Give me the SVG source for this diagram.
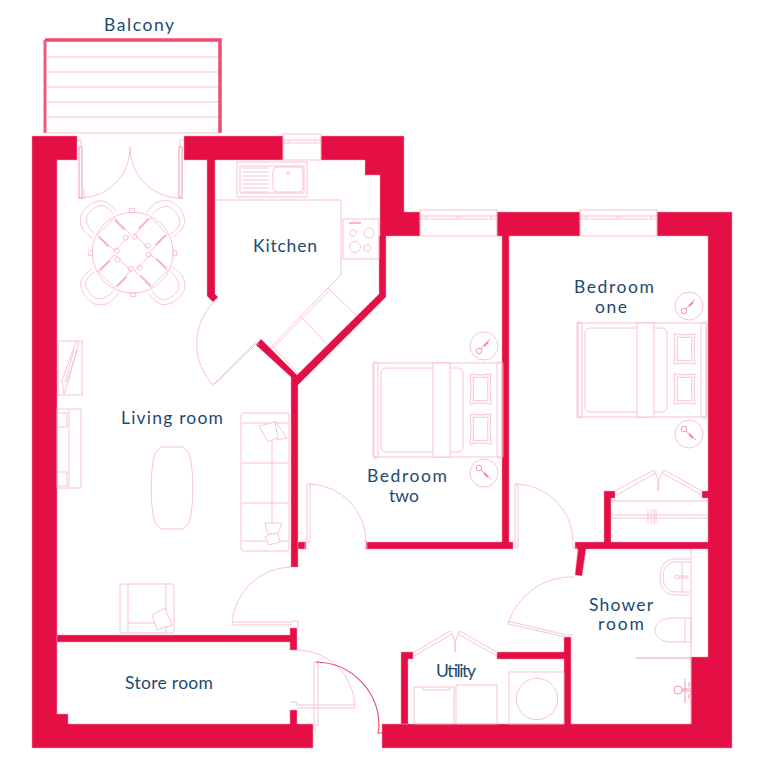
<svg xmlns="http://www.w3.org/2000/svg" xmlns:xlink="http://www.w3.org/1999/xlink" width="768" height="768" viewBox="0 0 768 768">
<style>
.w{fill:#e30f45;stroke:#f59ab2;stroke-width:.5}
.l{fill:none;stroke:#f9b4c7;stroke-width:.8}
.m{fill:none;stroke:#f58aa8;stroke-width:.9}
.d{fill:none;stroke:#ee4a74;stroke-width:1.1}
.t{fill:#1e4a70;font-family:"Lato","Open Sans",sans-serif;font-size:17.500px}
</style>
<defs>
<g id="win1" class="l"><rect x="0" y="-2" width="77" height="26"/><path d="M0 4H77M0 7H77M6 4V7M37 4V7M40 4V7M71 4V7"/></g>
<g id="lamp"><circle r="14" class="l"/><circle cx="-5" cy="5" r="2.8" class="m"/><path d="M-3 3L6 -7" class="m"/><path d="M0 0L4 -4" style="fill:none;stroke:#f58aa8;stroke-width:2.200"/></g>
<g id="pillow" class="l"><path d="M0 0Q10 2 21 0Q19 15 21 30Q10 28 0 30Q2 15 0 0Z"/><path d="M3 3Q10 4 18 3Q17 15 18 27Q10 26 3 27Q4 15 3 3Z"/></g>
<g id="bed" class="l"><rect x="0" y="0" width="128" height="94"/><rect x="-1" y="-1" width="5" height="96" rx="2"/><rect x="123" y="-1" width="6" height="96" rx="2"/><rect x="7" y="5" width="82" height="84" rx="5"/><rect x="59" y="0" width="17" height="94" style="fill:#fff"/><use xlink:href="#pillow" x="96" y="11"/><use xlink:href="#pillow" x="96" y="51"/></g>
<g id="place"><path d="M18 -35L35 -18L18 -2L2 -18Z" class="l"/><path d="M6 -24L16 -34M23 -8L33 -18" style="fill:none;stroke:#f9a9bf;stroke-width:1.600"/><circle cx="2" cy="-16" r="2.500" class="l"/><circle cx="15" cy="-7" r="2.500" class="l"/><path d="M14 -40C20 -48 24 -52 32 -52L36 -52C44 -50 52 -40 52 -31C52 -26 46 -20 41 -16M19 -38C24 -44 30 -47 36 -46C41 -44 47 -37 47 -31C47 -27 43 -22 38 -19" class="l"/></g>
</defs>

<g id="walls">
<path class="w" d="M32 136H77V160H57V714H68V724H290V710H297V724H313V748H32Z"/>
<path class="w" d="M184 136H283V160H215V294L218 297L213 302L207 296V160H184Z"/>
<path class="w" d="M321 136H404V212H420V236H386V297L298 385V567H291V377L256 345L261 339L297 375L379 294V236H380V175H365V160H321Z"/>
<path class="w" d="M497 212H580V236H509V542H513V549H366V542H502V236H497Z"/>
<path class="w" d="M657 212H732V748H382V724H564V659H497V652H564V637H571V724H691V657H708V549H586L582 576L575 575L578 549H575V542H604V491H615V498H611V542H708V498H702V491H708V236H657Z"/>
<path class="w" d="M401 652H413V659H408V724H401Z"/>
<path class="w" d="M57 635H290V628H297V650H290V642H57Z"/>
<rect class="w" x="298" y="542" width="8" height="7"/>
</g>

<g id="balcony">
<path d="M45 40H220V133" fill="none" stroke="#ee4a74" stroke-width="3.500"/>
<path d="M45 40V133" fill="none" stroke="#f0597f" stroke-width="3"/>
<path class="l" d="M47 57H218M47 72H218M47 87H218M47 102H218M47 117H218M43 133H222"/>
</g>

<g id="windows">
<use xlink:href="#win1" x="420" y="212"/>
<use xlink:href="#win1" x="580" y="212"/>
<g class="l"><rect x="283" y="134" width="38" height="26"/><path d="M283 140H321M283 143H321M289 140V143M315 140V143"/></g>
</g>

<g id="doors">
<g class="m"><rect x="79" y="147" width="3" height="51"/><rect x="179" y="147" width="3" height="51"/></g>
<g class="l"><path d="M77 140H81V147M184 140H180V147M78 198H84V188M177 198H183"/><path d="M82 198A50 50 0 0 0 130 147A50 50 0 0 0 179 198"/>
<path d="M218 298A60 60 0 0 0 213 385L256 342L259 345"/><path d="M215 384L258 342"/>
<path d="M309 484A58 58 0 0 1 366 542M307 484H310V542H307ZM305 543V549H309M364 541H367V548H364"/>
<path d="M516 484A58 58 0 0 1 573 541M515 484H518V548H515ZM573 542V548H577"/>
<path d="M575 577A66 66 0 0 0 508 624L565 637M508 621L566 635M568 635H573"/>
<path d="M291 567A60 60 0 0 0 232 625H291V622M233 622H290M291 621H298V628"/>
<path d="M297 650A58 58 0 0 1 355 708H297M355 705H297M297 705V702H290"/>
<path d="M314 662H318V725H314ZM313 725L316 733"/>
<path d="M615 491L654 470M618 494L656 473M664 470L702 491M662 473L700 494M654 470A30 30 0 0 1 658 491A30 30 0 0 1 664 470"/>
<path d="M413 653L450 631M414 656L452 634M460 631L498 653M458 634L497 656M450 631A30 30 0 0 1 455 652A30 30 0 0 1 460 631"/>
</g>
<path class="d" d="M316 662A64 64 0 0 1 379 727M379 727L378 733H382"/>
</g>

<g id="kitchen" class="l">
<path d="M215 200H341V275L328 288L272 346L298 374M328 288L356 315M301 317L327 344M329 291L274 347"/>
<rect x="237" y="162" width="70" height="35"/><rect x="240" y="166" width="64" height="27"/>
<path d="M242 168H269M242 172H269M242 176H269M242 180H269M242 184H269M242 188H269M242 192H269"/>
<rect x="273" y="167" width="30" height="25" rx="4"/><circle cx="288" cy="173" r="1.300"/>
<rect x="343" y="219" width="36" height="40"/><circle cx="353" cy="233" r="3.200"/><circle cx="369" cy="233" r="5"/><circle cx="355" cy="247" r="5.500"/><circle cx="367" cy="248" r="3.500"/>
<path d="M349 223H361" stroke-width="2"/>
</g>

<g id="dining">
<circle cx="132.700" cy="252.700" r="40.500" class="l"/>
<g transform="translate(132.700 252.700)">
<use xlink:href="#place"/><use xlink:href="#place" transform="rotate(90)"/><use xlink:href="#place" transform="rotate(180)"/><use xlink:href="#place" transform="rotate(270)"/>
<g class="l"><rect x="-3" y="-44" width="5" height="4"/><rect x="-44" y="-2" width="4" height="5"/><rect x="40" y="-2" width="4" height="5"/><rect x="-2" y="40" width="5" height="4"/></g>
</g>
</g>

<g id="living" class="l">
<rect x="58" y="341" width="24" height="54"/>
<path d="M79 342L76 342L62 380L64 394L68 382ZM74 350L65 382M77 350L67 382"/>
<rect x="57" y="409" width="24" height="79"/><path d="M69 409V488M57 413H67V427H57M57 472H67V486H57"/>
<path d="M172 447H164C156 447 153 456 152 470C151 480 151 496 152 506C153 520 156 529 164 529H180C188 529 191 520 192 506C193 496 193 480 192 470C191 456 188 447 180 447Z"/>
<rect x="241" y="413" width="48" height="138" rx="2"/>
<path d="M241 423H289M241 463H289M241 503H289M241 541H289M272 423V541"/>
<g fill="#fff"><path d="M275 421L287 438L277 440Z"/><path d="M259 426L275 422L278 437L268 442Z"/><path d="M265 537L277 531L280 542L269 545Z"/><path d="M265 523L282 523L278 533L268 534Z"/></g>
<rect x="120" y="584" width="54" height="49" rx="2"/><path d="M128 584V633M166 584V633M128 623H166"/>
<path d="M152 615L165 608L172 625L157 630Z" fill="#fff"/>
</g>

<g id="bedroom-two">
<use xlink:href="#bed" x="374" y="363"/>
<use xlink:href="#lamp" x="484" y="346"/>
<use xlink:href="#lamp" transform="translate(484 473) rotate(90)"/>
</g>
<g id="bedroom-one">
<use xlink:href="#bed" x="578" y="323"/>
<use xlink:href="#lamp" x="689" y="306"/>
<use xlink:href="#lamp" transform="translate(689 434) rotate(90)"/>
<g class="l"><path d="M611 501H708M611 515H708M611 518H708M648 510V523M651 509V524M654 509V524M656 510V523"/></g>
</g>

<g id="shower" class="l">
<path d="M691 549V724"/>
<path d="M690 559H675C665 559 660 566 660 577C660 588 665 595 675 595H690M690 562H676C668 562 663 568 663 577C663 586 668 592 676 592H690M682 562V592"/>
<circle cx="677" cy="577" r="2"/><path d="M679 576H688V578H679"/>
<path d="M685 618V642H691V618ZM685 618H672C660 618 655 626 655 630C655 636 660 642 672 642H685"/>
<path class="m" d="M636 658H691"/>
<g class="m"><circle cx="678" cy="690" r="4"/><path d="M682 689H691M682 691H691M685 679V703M689 682V687M689 694V699"/></g>
</g>

<g id="utility" class="l">
<rect x="414" y="687" width="40" height="37"/><path d="M423 687V690H450V687"/>
<rect x="456" y="685" width="41" height="39"/>
<rect x="509" y="672" width="55" height="52"/><circle cx="537" cy="699" r="20.700"/>
</g>

<g id="labels">
<text class="t" x="104" y="31" textLength="70">Balcony</text>
<text class="t" x="253" y="252" textLength="64">Kitchen</text>
<text class="t" x="574" y="293" textLength="80">Bedroom</text>
<text class="t" x="595" y="313" textLength="32">one</text>
<text class="t" x="367" y="482" textLength="80">Bedroom</text>
<text class="t" x="389" y="502" textLength="30">two</text>
<text class="t" x="121" y="424" textLength="102">Living room</text>
<text class="t" x="589" y="611" textLength="64">Shower</text>
<text class="t" x="598" y="630" textLength="46">room</text>
<text class="t" x="125" y="689" textLength="88">Store room</text>
<text class="t" x="436" y="677" textLength="40">Utility</text>
</g>
</svg>
